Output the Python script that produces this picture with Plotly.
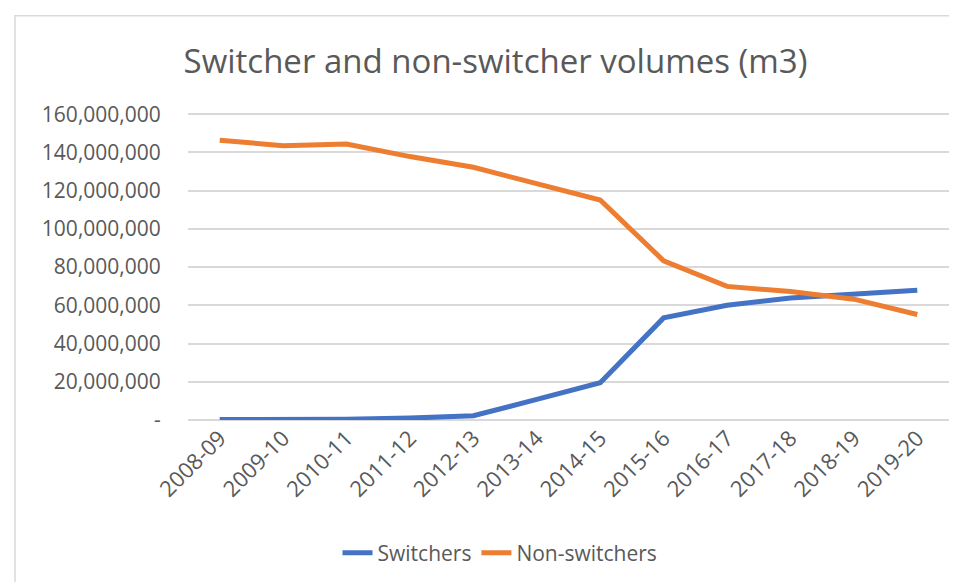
import plotly.graph_objects as go

years = ["2008-09", "2009-10", "2010-11", "2011-12", "2012-13", "2013-14",
         "2014-15", "2015-16", "2016-17", "2017-18", "2018-19", "2019-20"]
switchers = [300000, 300000, 400000, 1000000, 2200000, 10800000,
             19500000, 53400000, 60000000, 63800000, 65600000, 67900000]
non_switchers = [146400000, 143500000, 144400000, 137800000, 132200000, 123400000,
                 115100000, 83300000, 69900000, 67200000, 63200000, 55200000]

y_ticks = [0, 20e6, 40e6, 60e6, 80e6, 100e6, 120e6, 140e6, 160e6]
y_labels = ["-"] + [f"{int(v):,}" for v in y_ticks[1:]]

font = "Open Sans, Liberation Sans, sans-serif"
grey = "#595959"

# plot area in pixels (from the reference)
left, right, top, bottom = 180, 941, 104.5, 412.3
W, H = 957, 582


def px_x(px):
    return (px - left) / (right - left)


def px_y(py):
    return (bottom - py) / (bottom - top)


fig = go.Figure()
fig.add_trace(go.Scatter(x=years, y=switchers, mode="lines", name="Switchers",
                         line={"color": "#4472C4", "width": 5}))
fig.add_trace(go.Scatter(x=years, y=non_switchers, mode="lines", name="Non-switchers",
                         line={"color": "#ED7D31", "width": 5}))

fig.update_layout(
    width=W,
    height=H,
    margin={"l": left, "r": W - right, "t": top, "b": H - bottom, "autoexpand": False},
    paper_bgcolor="white",
    plot_bgcolor="white",
    font={"family": font, "color": grey, "size": 20},
    title={"text": "Switcher and non-switcher volumes (m3)", "x": 487.5 / W, "xanchor": "center",
           "xref": "container", "y": 1 - 53 / H, "yanchor": "middle", "yref": "container",
           "font": {"size": 33, "color": grey}},
    legend={"orientation": "h", "x": 492 / W, "xanchor": "center", "xref": "container",
            "y": 1 - 545 / H, "yanchor": "middle", "yref": "container",
            "font": {"size": 21, "color": grey}},
    showlegend=True,
    shapes=[{"type": "rect", "xref": "paper", "yref": "paper",
             "x0": px_x(7), "x1": px_x(952), "y0": px_y(579), "y1": px_y(7),
             "line": {"color": "#D9D9D9", "width": 1.5}, "layer": "below"}],
)
fig.update_xaxes(type="category", range=[-0.5, 11.5], tickangle=-45, showgrid=False,
                 showline=False, ticks="", automargin=False,
                 tickfont={"size": 22, "color": grey})
fig.update_yaxes(range=[0, 160.6e6], tickvals=y_ticks, ticktext=y_labels,
                 gridcolor="#D9D9D9", gridwidth=1.5, zeroline=True, zerolinecolor="#D9D9D9",
                 zerolinewidth=1.5, showline=False, ticks="outside", ticklen=22,
                 tickcolor="rgba(0,0,0,0)", automargin=False,
                 tickfont={"size": 21, "color": grey})

fig.write_html("out.html")
